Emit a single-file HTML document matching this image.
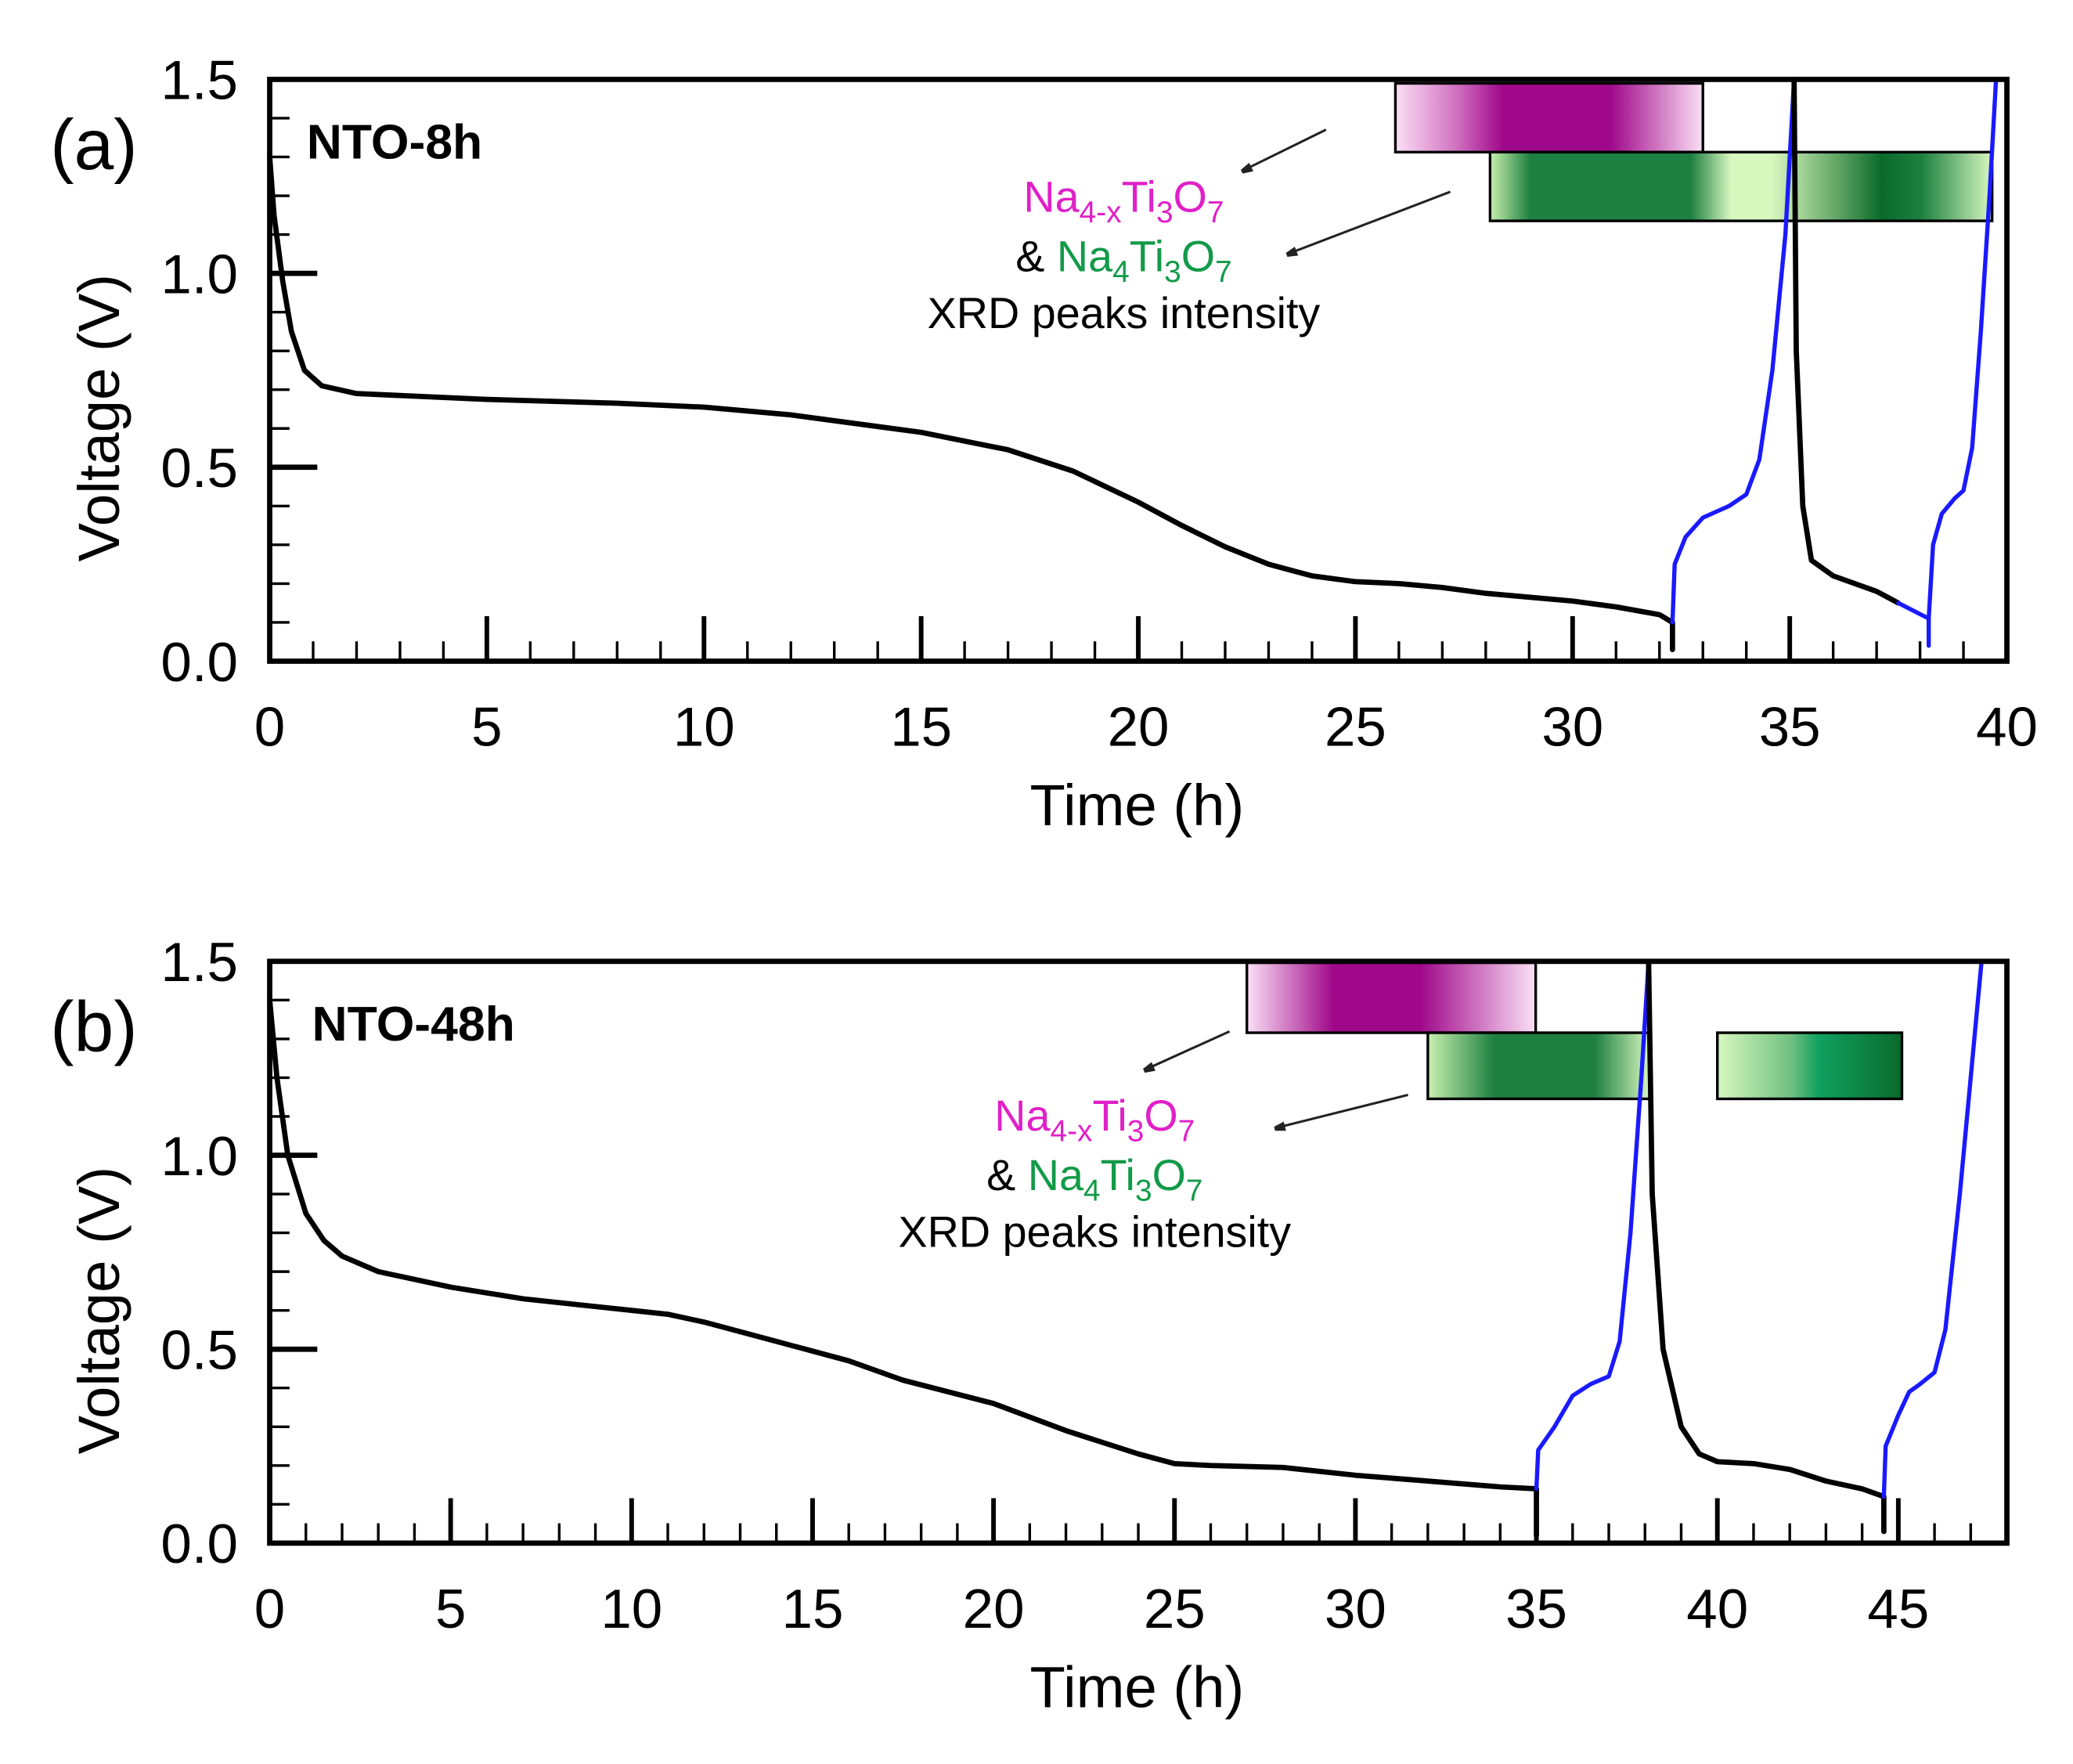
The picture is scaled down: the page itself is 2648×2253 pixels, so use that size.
<!DOCTYPE html>
<html><head><meta charset="utf-8"><style>
html,body{margin:0;padding:0;background:#fff;}
svg{display:block;font-family:"Liberation Sans",Arial,sans-serif;}
</style></head><body>
<svg id="fig" width="2648" height="2253" viewBox="0 0 1568 1334" xmlns="http://www.w3.org/2000/svg">
<defs>
<linearGradient id="magA" x1="0" x2="1"><stop offset="0" stop-color="#fbe0f6"/><stop offset="0.2" stop-color="#d070c0"/><stop offset="0.35" stop-color="#a0088a"/><stop offset="0.7" stop-color="#a0088a"/><stop offset="1" stop-color="#fbe0f6"/></linearGradient>
<linearGradient id="grnA" x1="0" x2="1"><stop offset="0" stop-color="#c8f0b0"/><stop offset="0.08" stop-color="#1e8040"/><stop offset="0.4" stop-color="#1e8040"/><stop offset="0.48" stop-color="#d8f8c0"/><stop offset="0.56" stop-color="#d8f8c0"/><stop offset="0.7" stop-color="#5aa060"/><stop offset="0.78" stop-color="#0a6a2a"/><stop offset="0.86" stop-color="#1e8040"/><stop offset="1" stop-color="#d8f8c0"/></linearGradient>
<linearGradient id="magB" x1="0" x2="1"><stop offset="0" stop-color="#fbe0f6"/><stop offset="0.3" stop-color="#a0088a"/><stop offset="0.6" stop-color="#a0088a"/><stop offset="1" stop-color="#fbe0f6"/></linearGradient>
<linearGradient id="grnB1" x1="0" x2="1"><stop offset="0" stop-color="#c8f0b0"/><stop offset="0.3" stop-color="#1e8040"/><stop offset="0.75" stop-color="#1e8040"/><stop offset="1" stop-color="#d8f8c0"/></linearGradient>
<linearGradient id="grnB2" x1="0" x2="1"><stop offset="0" stop-color="#d8f8c0"/><stop offset="0.4" stop-color="#70c080"/><stop offset="0.55" stop-color="#10a060"/><stop offset="1" stop-color="#0a6a2a"/></linearGradient>
<marker id="arr" markerWidth="8" markerHeight="8" refX="7" refY="4" orient="auto" markerUnits="userSpaceOnUse"><path d="M0,0 L16,4 L0,8 z" transform="scale(0.9)" fill="#222"/></marker>
</defs>
</svg>
<script>
// ---- data panel (a) ----
const aDis1T=[0,0.1,0.3,0.5,0.8,1.2,2,5,8,10,12,15,17,18.5,20,21,22,23,24,25,26,27,28,29,30,31,32,32.3,32.3];
const aDis1V=[1.3,1.15,0.98,0.85,0.75,0.71,0.69,0.675,0.665,0.655,0.635,0.59,0.545,0.49,0.41,0.35,0.295,0.25,0.22,0.205,0.2,0.19,0.175,0.165,0.155,0.14,0.12,0.1,0.03];
const aCh1T=[32.3,32.35,32.6,33,33.6,34,34.3,34.6,34.9,35.1];
const aCh1V=[0.1,0.25,0.32,0.37,0.4,0.43,0.52,0.75,1.1,1.5];
const aDis2T=[35.1,35.15,35.3,35.5,36,37,37.5];
const aDis2V=[1.5,0.8,0.4,0.26,0.22,0.18,0.15];
const aCh2T=[37.5,38.2,38.2,38.2,38.3,38.5,38.8,39,39.2,39.4,39.6,39.75];
const aCh2V=[0.15,0.11,0.04,0.11,0.3,0.38,0.42,0.44,0.55,0.85,1.2,1.5];
const aXTicks=[0,5,10,15,20,25,30,35,40];
// ---- data panel (b) ----
const bDis1T=[0,0.2,0.5,1,1.5,2,3,5,7,10,11,12,14,16,17.5,20,22,24,25,26,28,30,32,34,35,35];
const bDis1V=[1.4,1.2,1.0,0.85,0.78,0.74,0.7,0.66,0.63,0.6,0.59,0.57,0.52,0.47,0.42,0.36,0.29,0.23,0.205,0.2,0.195,0.175,0.16,0.145,0.14,0.02];
const bCh1T=[35,35.05,35.5,36,36.5,37,37.3,37.6,37.9,38.1];
const bCh1V=[0.14,0.24,0.3,0.38,0.41,0.43,0.52,0.8,1.2,1.5];
const bDis2T=[38.1,38.2,38.5,39,39.5,40,41,42,43,44,44.6,44.6];
const bDis2V=[1.5,0.9,0.5,0.3,0.23,0.21,0.205,0.19,0.16,0.14,0.12,0.03];
const bCh2T=[44.6,44.65,45,45.3,45.6,46,46.3,46.7,47.1,47.3];
const bCh2V=[0.12,0.25,0.33,0.39,0.41,0.44,0.55,0.9,1.3,1.5];
const bXTicks=[0,5,10,15,20,25,30,35,40,45];
const yTicks=[0.0,0.5,1.0,1.5];

const NS="http://www.w3.org/2000/svg";
const svg=document.getElementById('fig');
function mk(tag,attrs,parent){const e=document.createElementNS(NS,tag);for(const k in attrs)e.setAttribute(k,attrs[k]);(parent||svg).appendChild(e);return e;}

function panel(o){
  const g=mk('g',{});
  
  
  const L=204,R=1518,T=o.top,B=o.top+440;
  const xs=t=>L+(t/o.xmax)*(R-L);
  const ys=v=>B-(v/1.5)*(B-T);
  o.bars.forEach((b,i)=>{const r=mk('rect',{x:xs(b[0]),y:b[2],width:xs(b[1])-xs(b[0]),height:b[3],fill:b[4],stroke:'#000','stroke-width':2},g);
    
    });
  function line(T_,V_,col,w,name){let d='';T_.forEach((t,i)=>{d+=(i?'L':'M')+xs(t).toFixed(2)+','+ys(V_[i]).toFixed(2);});
    const p=mk('path',{d:d,fill:'none',stroke:col,'stroke-width':w,'stroke-linejoin':'round','stroke-linecap':'round'},g);
    
    }
  o.series.forEach(s=>line(s[0],s[1],s[2],s[2]==='#000'?4:3.2,s[3]));
  const f=mk('rect',{x:L,y:T,width:R-L,height:B-T,fill:'none',stroke:'#000','stroke-width':4},g);
  
  
  for(let t=1;t<o.xmax;t++){const maj=t%5===0;mk('line',{x1:xs(t),x2:xs(t),y1:B,y2:B-(maj?34:15),stroke:'#000','stroke-width':maj?3.5:2},g);}
  for(let k=1;k<15;k++){const v=k/10;const maj=k%5===0;mk('line',{x1:L,x2:L+(maj?36:15),y1:ys(v),y2:ys(v),stroke:'#000','stroke-width':maj?4:2},g);}
  o.xticks.forEach(t=>{const tx=mk('text',{x:xs(t),y:B+64,'font-size':42,'text-anchor':'middle'},g);tx.textContent=t;
    
    });
  yTicks.forEach(v=>{const tx=mk('text',{x:180,y:ys(v)+15,'font-size':42,'text-anchor':'end'},g);tx.textContent=v.toFixed(1);
    
    });
  const xt=mk('text',{x:860,y:B+124,'font-size':44,'text-anchor':'middle'},g);xt.textContent='Time (h)';
  
  
  const yt=mk('text',{x:0,y:0,'font-size':44,'text-anchor':'middle',transform:`translate(90,${T+o.yc}) rotate(-90)`},g);yt.textContent='Voltage (V)';
  
  
  const pl=mk('text',{x:38,y:T+68,'font-size':54},g);pl.textContent=o.label;
  
  
  const st=mk('text',{x:o.sx,y:T+60,'font-size':37,'font-weight':'bold'},g);st.textContent=o.sample;
  
  
  o.arrows.forEach(a=>{const l=mk('line',{x1:a[0],y1:a[1],x2:a[2],y2:a[3],stroke:'#222','stroke-width':1.8,'marker-end':'url(#arr)'},g);
    
    });
  const cx=o.tx, ty=o.ty;
  const t1=mk('text',{x:cx,y:ty,'font-size':33,'text-anchor':'middle',fill:'#e020c8'},g);
  t1.innerHTML='Na<tspan font-size="23" dy="8">4-x</tspan><tspan dy="-8">Ti</tspan><tspan font-size="23" dy="8">3</tspan><tspan dy="-8">O</tspan><tspan font-size="23" dy="8">7</tspan>';
  
  
  const t2=mk('text',{x:cx,y:ty+45,'font-size':33,'text-anchor':'middle'},g);
  t2.innerHTML='&amp; <tspan fill="#129a48">Na</tspan><tspan fill="#129a48" font-size="23" dy="8">4</tspan><tspan fill="#129a48" dy="-8">Ti</tspan><tspan fill="#129a48" font-size="23" dy="8">3</tspan><tspan fill="#129a48" dy="-8">O</tspan><tspan fill="#129a48" font-size="23" dy="8">7</tspan>';
  
  
  const t3=mk('text',{x:cx,y:ty+88,'font-size':33,'text-anchor':'middle'},g);t3.textContent='XRD peaks intensity';
  
  
}

panel({id:'a',top:60,xmax:40,label:'(a)',sample:'NTO-8h',sx:232,xticks:aXTicks,yc:256,
  series:[[aDis1T,aDis1V,'#000','discharge-1'],[aCh1T,aCh1V,'#1a1aff','charge-1'],[aDis2T,aDis2V,'#000','discharge-2'],[aCh2T,aCh2V,'#1a1aff','charge-2']],
  bars:[[25.92,33.0,63,52,'url(#magA)'],[28.1,39.66,115,52,'url(#grnA)']],
  arrows:[[1003,98,940,129],[1097,145,974,192]],tx:850,ty:160});
panel({id:'b',top:727,xmax:48,label:'(b)',sample:'NTO-48h',sx:236,xticks:bXTicks,yc:264,
  series:[[bDis1T,bDis1V,'#000','discharge-1'],[bCh1T,bCh1V,'#1a1aff','charge-1'],[bDis2T,bDis2V,'#000','discharge-2'],[bCh2T,bCh2V,'#1a1aff','charge-2']],
  bars:[[27.0,34.98,728,53,'url(#magB)'],[32.0,38.15,781,50,'url(#grnB1)'],[40.0,45.1,781,50,'url(#grnB2)']],
  arrows:[[930,780,866,809],[1065,828,965,853]],tx:828,ty:855});
</script>
</body></html>
